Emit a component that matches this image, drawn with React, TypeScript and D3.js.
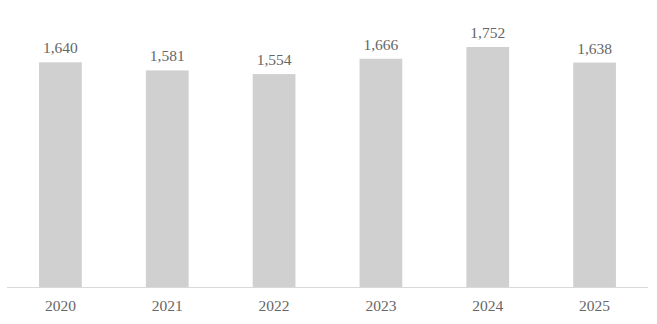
import React from "react";
import * as d3 from "d3";

const years = ["2020", "2021", "2022", "2023", "2024", "2025"];
const values = [1640, 1581, 1554, 1666, 1752, 1638];

export default function App() {
  const W = 657, H = 324;
  const x = d3.scaleBand<string>().domain(years).range([7, 648]).paddingInner(0.6).paddingOuter(0.3);
  const y = d3.scaleLinear().domain([0, 2000]).range([287, 13]);
  const fmt = d3.format(",");
  return (
    <svg width={W} height={H} style={{ position: "absolute", left: 0, top: 0, background: "#fff" }}
      fontFamily="'Liberation Serif', 'Times New Roman', serif">
      {years.map((yr, i) => (
        <g key={yr}>
          <rect x={x(yr)} y={y(values[i])} width={x.bandwidth()} height={y(0) - y(values[i])} fill="#d0d0d0" />
          <text x={(x(yr) as number) + x.bandwidth() / 2} y={y(values[i]) - 9} textAnchor="middle" fontSize={15.5} fill="#666666">{fmt(values[i])}</text>
          <text x={(x(yr) as number) + x.bandwidth() / 2} y={311} textAnchor="middle" fontSize={15.5} fill="#666666">{yr}</text>
        </g>
      ))}
      <line x1={7} x2={648} y1={287.5} y2={287.5} stroke="#d9d9d9" strokeWidth={1} />
    </svg>
  );
}
